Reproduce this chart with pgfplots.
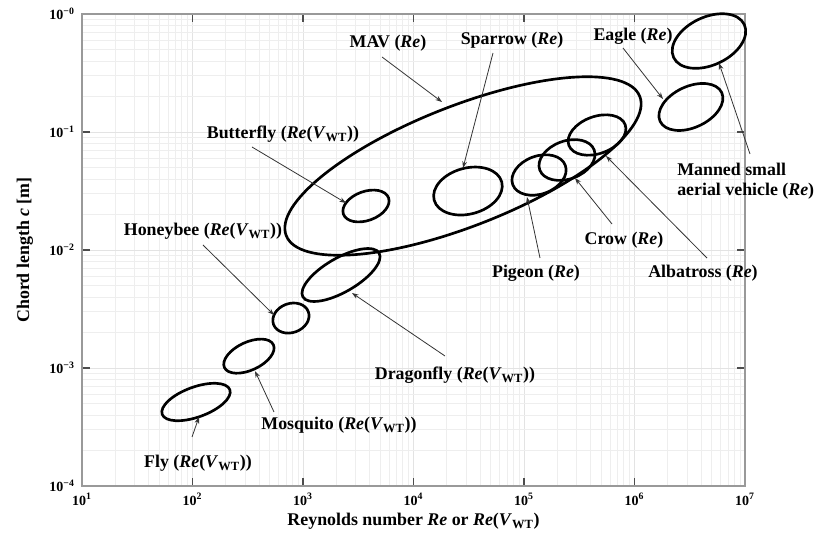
\documentclass[border=0pt]{standalone}
\usepackage{fontspec}
\setmainfont{Liberation Serif}
\usepackage{pgfplots}
\pgfplotsset{compat=1.18}
\usetikzlibrary{arrows.meta}

\newcommand{\WT}{\textit{V}\textsubscript{WT}}
\newcommand{\RE}{\textit{Re}}
% ellipse: {x}{y}{angle}{semi-major pt}{semi-minor pt}
\newcommand{\drawell}[5]{\draw[ell, rotate around={#3:(axis cs:#1,#2)}] (axis cs:#1,#2) ellipse [x radius=#4pt, y radius=#5pt];}

\begin{document}
\begin{tikzpicture}[
  lab/.style={font=\fontsize{13.4}{15}\selectfont\bfseries, inner sep=0pt},
  arr/.style={-{Stealth[length=5pt,width=3.5pt]}, line width=0.6pt, black!80},
  ell/.style={line width=2pt, black}]
\begin{axis}[
  scale only axis, width=497.25pt, height=354pt,
  xmode=log, ymode=log, xmin=10, xmax=1e7, ymin=1e-4, ymax=1,
  clip=false,
  axis line style={gray!80, line width=0.8pt},
  tick align=inside, major tick length=6pt, minor tick length=0pt,
  tick style={black!70, line width=0.8pt},
  grid=both,
  major grid style={gray!22, line width=0.5pt},
  minor grid style={gray!13, line width=0.5pt},
  xtick={1e1,1e2,1e3,1e4,1e5,1e6,1e7},
  xticklabels={10\textsuperscript{1},10\textsuperscript{2},10\textsuperscript{3},10\textsuperscript{4},10\textsuperscript{5},10\textsuperscript{6},10\textsuperscript{7}},
  ytick={1e-4,1e-3,1e-2,1e-1,1},
  yticklabels={10\textsuperscript{−4},10\textsuperscript{−3},10\textsuperscript{−2},10\textsuperscript{−1},10\textsuperscript{−0}},
  tick label style={font=\fontsize{10.5}{12}\selectfont\bfseries},
  xticklabel style={yshift=-2pt},
  yticklabel style={xshift=-2pt},
  xlabel={Reynolds number \RE{} or \RE(\WT)},
  ylabel={Chord length \textit{c} [m]},
  every axis x label/.style={at={(axis description cs:0.5,-0.0742)}, anchor=center, font=\fontsize{13.4}{16}\selectfont\bfseries},
  every axis y label/.style={at={(axis description cs:-0.086,0.5)}, anchor=center, rotate=90, font=\fontsize{13.4}{16}\selectfont\bfseries},
]
\coordinate (TL) at (rel axis cs:0,1);
\drawell{107.6}{5.15e-4}{20}{27}{11.25}
\drawell{324}{1.26e-3}{25}{20.25}{10.5}
\drawell{778}{2.65e-3}{20}{13.9}{10.9}
\drawell{2208}{6.14e-3}{30}{33}{12.75}
\drawell{3715}{0.0236}{20}{18}{10.9}
\drawell{28050}{0.0515}{21.5}{142.5}{45}
\drawell{31100}{0.0316}{15}{26.25}{17.25}
\drawell{136800}{0.0432}{20}{21}{14.25}
\drawell{245000}{0.0579}{20}{21.75}{14.25}
\drawell{458000}{0.0943}{20}{22.5}{13.9}
\drawell{3.24e6}{0.163}{25}{25.5}{15.4}
\drawell{4.72e6}{0.590}{25}{29.25}{18}
\end{axis}
\begin{scope}[x=0.75pt, y=-0.75pt, shift={(TL)}, shift={(-82,-14)}]
\node[lab] at (388,43) {MAV (\RE)};
\node[lab] at (512,40) {Sparrow (\RE)};
\node[lab] at (633,36) {Eagle (\RE)};
\node[lab] at (283,134) {Butterfly (\RE(\WT))};
\node[lab] at (203,231) {Honeybee (\RE(\WT))};
\node[lab] at (455,375) {Dragonfly (\RE(\WT))};
\node[lab] at (339,425) {Mosquito (\RE(\WT))};
\node[lab] at (198,463) {Fly (\RE(\WT))};
\node[lab] at (536,273) {Pigeon (\RE)};
\node[lab] at (624,240) {Crow (\RE)};
\node[lab] at (703,273) {Albatross (\RE)};
\node[lab, anchor=west, align=left] at (677,181) {Manned small\\aerial vehicle (\RE)};
\draw[arr] (382,57) -- (442,102);
\draw[arr] (493,53) -- (463,168);
\draw[arr] (623,48) -- (663,99);
\draw[arr] (252,147) -- (346,203);
\draw[arr] (203,245) -- (274,315);
\draw[arr] (445,356) -- (352,293);
\draw[arr] (274,412) -- (255,371);
\draw[arr] (192,437) -- (199,417);
\draw[arr] (540,258) -- (527,197);
\draw[arr] (612,224) -- (575,178);
\draw[arr] (707,258) -- (606,156);
\draw[arr] (750,154) -- (719,63);
\pgfresetboundingbox
\path (0,0) rectangle (817,535);
\end{scope}
\end{tikzpicture}
\end{document}
